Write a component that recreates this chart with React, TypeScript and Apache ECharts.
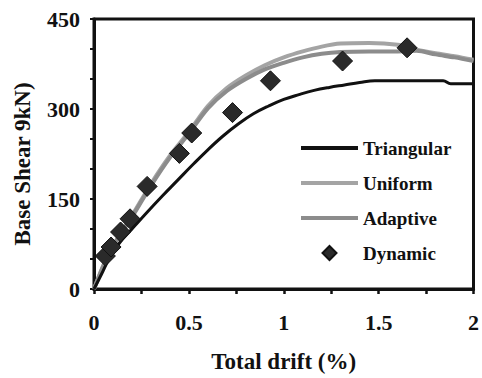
import React, { useEffect, useRef } from "react";
import * as echarts from "echarts";

const triangularDrift = [0, 0.04, 0.08, 0.13, 0.2, 0.28, 0.36, 0.44, 0.52, 0.6, 0.68, 0.76, 0.84, 0.92, 1.0, 1.08, 1.16, 1.24, 1.32, 1.4, 1.48, 1.84, 1.88, 2.0];
const triangularShear = [0, 25, 51, 75, 100, 128, 155, 181, 207, 232, 255, 275, 292, 305, 316, 324, 331, 336, 340, 344, 347, 347, 342, 342];

const uniformDrift = [0, 0.05, 0.1, 0.2, 0.3, 0.4, 0.5, 0.6, 0.7, 0.8, 0.9, 1.0, 1.1, 1.2, 1.3, 1.45, 1.6, 1.7, 1.8, 1.9, 2.0];
const uniformShear = [0, 40, 72, 122, 175, 222, 262, 305, 335, 356, 373, 386, 396, 404, 409, 410, 407, 399, 393, 388, 382];

const adaptiveDrift = [0, 0.05, 0.1, 0.2, 0.3, 0.4, 0.5, 0.6, 0.7, 0.8, 0.9, 1.0, 1.1, 1.2, 1.3, 1.45, 1.6, 1.7, 1.8, 1.9, 2.0];
const adaptiveShear = [0, 39, 71, 120, 172, 219, 259, 301, 330, 350, 366, 377, 386, 392, 395, 396, 396, 397, 391, 386, 380];

const dynamicDrift = [0.06, 0.09, 0.14, 0.19, 0.28, 0.45, 0.515, 0.73, 0.93, 1.31, 1.65];
const dynamicShear = [55, 70, 95, 117, 171, 226, 260, 294, 347, 380, 402];

const seriesNames = ["Triangular", "Uniform", "Adaptive", "Dynamic"];
const xTicks = [0, 0.5, 1, 1.5, 2];
const yTicks = [0, 150, 300, 450];

const zip = (xs: number[], ys: number[]) => xs.map((x, i) => [x, ys[i]]);

const FONT = "Times New Roman, Liberation Serif, DejaVu Serif, serif";
const LINE_ICON = "path://M0,0 L57,0 L57,4 L0,4 Z";
const DIAMOND_ICON = "path://M7,0 L14,7 L7,14 L0,7 Z";

export default function App() {
  const ref = useRef<HTMLDivElement>(null);
  useEffect(() => {
    if (!ref.current) return;
    const chart = echarts.init(ref.current, null, { renderer: "svg" });
    chart.setOption({
      animation: false,
      backgroundColor: "#ffffff",
      textStyle: { fontFamily: FONT },
      grid: {
        left: 94,
        right: 6,
        top: 19,
        bottom: 85,
        show: true,
        borderColor: "#111",
        borderWidth: 3,
        backgroundColor: "transparent",
      },
      legend: {
        orient: "vertical",
        left: 296,
        top: 133,
        itemWidth: 57,
        itemHeight: 14,
        itemGap: 15,
        symbolKeepAspect: true,
        data: [
          { name: seriesNames[0], icon: LINE_ICON },
          { name: seriesNames[1], icon: LINE_ICON },
          { name: seriesNames[2], icon: LINE_ICON },
          { name: seriesNames[3], icon: DIAMOND_ICON },
        ],
        textStyle: {
          fontFamily: FONT,
          fontWeight: "bold",
          fontSize: 19,
          color: "#111",
          lineHeight: 20,
        },
      },
      xAxis: {
        type: "value",
        min: xTicks[0],
        max: xTicks[xTicks.length - 1],
        interval: 0.5,
        name: "Total drift (%)",
        nameLocation: "middle",
        nameGap: 61,
        nameTextStyle: { fontFamily: FONT, fontWeight: "bold", fontSize: 23, color: "#111" },
        axisLine: { show: true, lineStyle: { color: "#111", width: 3 } },
        axisTick: { show: true, length: 5, lineStyle: { color: "#111", width: 2.5 } },
        minorTick: { show: true, splitNumber: 2, length: 5, lineStyle: { color: "#111", width: 2.5 } },
        splitLine: { show: false },
        axisLabel: {
          margin: 22,
          fontFamily: FONT,
          fontWeight: "bold",
          fontSize: 22,
          color: "#111",
          formatter: (v: number) => String(v),
        },
      },
      yAxis: {
        type: "value",
        min: yTicks[0],
        max: yTicks[yTicks.length - 1],
        interval: 150,
        name: "Base Shear 9kN)",
        nameLocation: "middle",
        nameGap: 60,
        nameTextStyle: {
          fontFamily: FONT,
          fontWeight: "bold",
          fontSize: 23,
          color: "#111",
          padding: [0, 20, 0, 0],
        },
        axisLine: { show: true, lineStyle: { color: "#111", width: 3 } },
        axisTick: { show: true, length: 4, lineStyle: { color: "#111", width: 2 } },
        minorTick: { show: true, splitNumber: 3, length: 4, lineStyle: { color: "#111", width: 2 } },
        splitLine: { show: false },
        axisLabel: {
          margin: 14,
          fontFamily: FONT,
          fontWeight: "bold",
          fontSize: 22,
          color: "#111",
        },
      },
      series: [
        {
          name: seriesNames[0],
          type: "line",
          data: zip(triangularDrift, triangularShear),
          symbol: "none",
          smooth: 0.4,
          lineStyle: { color: "#111", width: 3 },
          itemStyle: { color: "#111" },
          z: 3,
        },
        {
          name: seriesNames[1],
          type: "line",
          data: zip(uniformDrift, uniformShear),
          symbol: "none",
          smooth: 0.3,
          lineStyle: { color: "#a4a4a4", width: 4 },
          itemStyle: { color: "#a4a4a4" },
          z: 2,
        },
        {
          name: seriesNames[2],
          type: "line",
          data: zip(adaptiveDrift, adaptiveShear),
          symbol: "none",
          smooth: 0.3,
          lineStyle: { color: "#8c8c8c", width: 4 },
          itemStyle: { color: "#8c8c8c" },
          z: 2,
        },
        {
          name: seriesNames[3],
          type: "scatter",
          data: zip(dynamicDrift, dynamicShear),
          symbol: "diamond",
          symbolSize: 20,
          itemStyle: { color: "#2a2a2a", borderColor: "#111", borderWidth: 1, opacity: 1 },
          z: 5,
        },
      ],
    });
    return () => chart.dispose();
  }, []);
  return (
    <div
      ref={ref}
      style={{ position: "absolute", left: 0, top: 0, width: 482, height: 378 }}
    />
  );
}
